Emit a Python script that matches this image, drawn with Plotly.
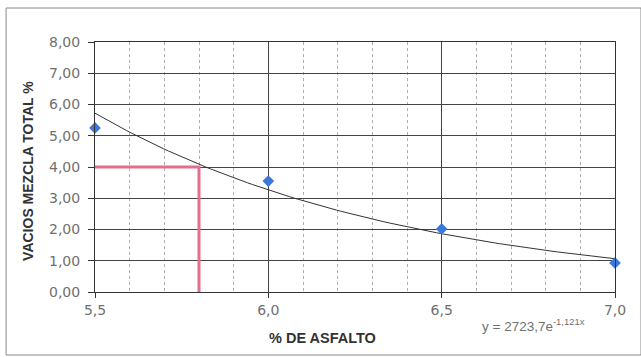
import plotly.graph_objects as go
import numpy as np

# Data
asfalto = [5.5, 6.0, 6.5, 7.0]
vacios = [5.25, 3.55, 2.02, 0.93]

# Trendline equation shown on chart: y = 2723,7 e^(-1,121 x)
trend_a = 2723.7
trend_b = -1.121

# Design guide (4 % voids -> 5.8 % asphalt)
guide_x = 5.8
guide_y = 4.0

x_ticks = [5.5, 6.0, 6.5, 7.0]
y_ticks = [0, 1, 2, 3, 4, 5, 6, 7, 8]

xt = np.linspace(min(asfalto), max(asfalto), 100)
yt = trend_a * np.exp(trend_b * xt)

fig = go.Figure()

# guide lines
fig.add_trace(go.Scatter(x=[asfalto[0], guide_x, guide_x], y=[guide_y, guide_y, 0],
                         mode="lines", line=dict(color="#e0708c", width=3),
                         hoverinfo="skip", showlegend=False))
# trend
fig.add_trace(go.Scatter(x=xt, y=yt, mode="lines",
                         line=dict(color="#333333", width=1), showlegend=False))
# data
fig.add_trace(go.Scatter(x=asfalto, y=vacios, mode="markers",
                         marker=dict(symbol="diamond", size=9, color="#3b78d8"),
                         cliponaxis=False, showlegend=False))

tickfont = dict(family="DejaVu Sans", size=14, color="#707070")

fig.update_layout(
    width=641, height=357,
    margin=dict(l=95, r=26, t=42, b=65),
    paper_bgcolor="white", plot_bgcolor="white",
    separators=",.",
    font=dict(family="Liberation Sans, Arial", color="#707070", size=14),
    showlegend=False,
    xaxis=dict(range=[5.5, 7.0], tickvals=x_ticks, tickformat=".1f", tickfont=tickfont,
               showgrid=True, gridcolor="#444444", gridwidth=1,
               minor=dict(dtick=0.1, showgrid=True, gridcolor="#b0b0b0", griddash="dot", gridwidth=1),
               showline=True, linecolor="#333333", linewidth=1, mirror=True,
               ticks="outside", ticklen=5, tickcolor="#333333",
               zeroline=False, ticklabelstandoff=0),
    yaxis=dict(range=[0, 8], tickvals=y_ticks, tickformat=".2f", tickfont=tickfont,
               showgrid=True, gridcolor="#444444", gridwidth=1,
               showline=True, linecolor="#333333", linewidth=1, mirror=True,
               ticks="outside", ticklen=6, tickcolor="#333333",
               zeroline=False, ticklabelstandoff=5),
    annotations=[
        dict(text="<b>% DE ASFALTO</b>", xref="paper", yref="paper",
             x=0.437, y=-0.185, xanchor="center", yanchor="middle", showarrow=False,
             font=dict(size=14.5, color="#333333")),
        dict(text="<b>VACIOS MEZCLA TOTAL %</b>", xref="paper", yref="paper",
             x=-0.129, y=0.484, xanchor="center", yanchor="middle", textangle=-90, showarrow=False,
             font=dict(size=14, color="#333333")),
        dict(text="y = 2723,7e<sup>-1,121x</sup>", xref="paper", yref="paper",
             x=0.946, y=-0.132, xanchor="right", yanchor="middle", showarrow=False,
             font=dict(size=13.5, color="#707070")),
    ],
    shapes=[
        dict(type="rect", xref="paper", yref="paper", x0=-0.171, x1=1.050, y0=-0.252, y1=1.136,
             line=dict(color="#888888", width=1), fillcolor="rgba(0,0,0,0)", layer="below"),
    ],
)

fig.write_html("out.html", config={"displayModeBar": False},
               post_script="document.body.style.margin='0';")
